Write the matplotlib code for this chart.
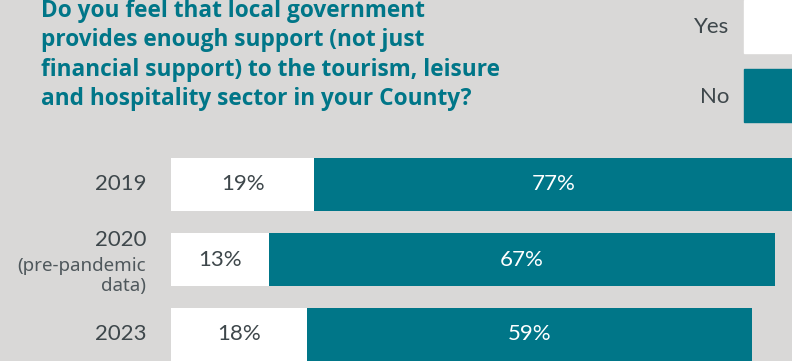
import matplotlib.pyplot as plt
from matplotlib.patches import Rectangle

years = ["2019", "2020", "2023"]
notes = ["", "(pre-pandemic\ndata)", ""]
yes_pct = [19, 13, 18]
no_pct = [77, 67, 59]

TEAL = "#007688"
BG = "#d9d8d7"
GREY = "#3e474b"
W, H = 792, 361

plt.rcParams['font.family'] = ['Lato', 'DejaVu Sans']

fig = plt.figure(figsize=(W / 100, H / 100), dpi=100)
fig.patch.set_facecolor(BG)

# bar area: starts 171 px from the left, one category every 75 px
ax = fig.add_axes([171 / W, 0, 1 - 171 / W, 1])
ax.set_facecolor(BG)
px_per_pct = 7.55
xmax = (W - 171) / px_per_pct
ax.set_xlim(0, xmax)
pitch = 75
ax.set_ylim((H - 184.5) / pitch, -184.5 / pitch)
bar_h = 53 / pitch
for s in ax.spines.values():
    s.set_visible(False)
ax.set_xticks([])
ax.set_yticks([])

for i, (y, n) in enumerate(zip(yes_pct, no_pct)):
    ax.barh(i, y, height=bar_h, color="white")
    ax.barh(i, n, left=y, height=bar_h, color=TEAL)
    ax.text(y / 2, i, f"{y}%", ha="center", va="center", fontsize=16, color=GREY)
    mid = (y + min(y + n, xmax)) / 2
    ax.text(mid, i, f"{n}%", ha="center", va="center", fontsize=16, color="white")

# category labels to the left of the bars
for i, (yr, note) in enumerate(zip(years, notes)):
    yc = 1 - (184.5 + i * pitch) / H
    if note:
        fig.text(146 / W, 1 - 240 / H, yr, ha="right", va="center", fontsize=16, color=GREY)
        fig.text(146 / W, 1 - 276 / H, note, ha="right", va="center", fontsize=13.5,
                 color="#4f585c", family=["Noto Sans", "DejaVu Sans"], linespacing=1.12)
    else:
        fig.text(146 / W, yc, yr, ha="right", va="center", fontsize=16, color=GREY)

fig.text(41 / W, 1 - 55 / H,
         "Do you feel that local government\nprovides enough support (not just\n"
         "financial support) to the tourism, leisure\nand hospitality sector in your County?",
         ha="left", va="center", fontsize=16.3, fontweight="bold", color=TEAL,
         family=["Open Sans", "DejaVu Sans"], linespacing=1.3)

# legend swatches
fig.patches.append(Rectangle((744 / W, 1 - 53 / H), 60 / W, 53 / H, color="white",
                             transform=fig.transFigure))
fig.patches.append(Rectangle((744 / W, 1 - 122 / H), 60 / W, 53 / H, color=TEAL,
                             transform=fig.transFigure))
fig.text(729 / W, 1 - 27 / H, "Yes", ha="right", va="center", fontsize=16, color=GREY)
fig.text(729 / W, 1 - 97 / H, "No", ha="right", va="center", fontsize=16, color=GREY)

fig.savefig("out.png", dpi=100, facecolor=BG)
